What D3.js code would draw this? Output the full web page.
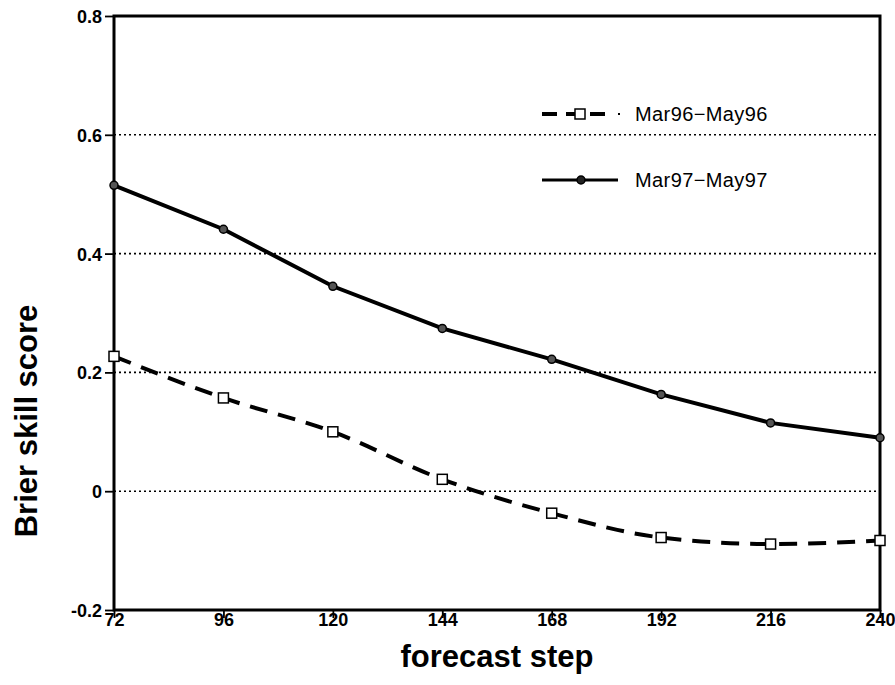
<!DOCTYPE html>
<html>
<head>
<meta charset="utf-8">
<script src="https://cdn.jsdelivr.net/npm/d3@7"></script>
<style>
  body { margin: 0; background: #fff; }
  svg text { font-family: "Liberation Sans", Arial, Helvetica, sans-serif; fill: #000; }
</style>
</head>
<body>
<div id="chart"></div>
<script>
var steps = [72, 96, 120, 144, 168, 192, 216, 240];
var mar96 = [0.227, 0.157, 0.100, 0.020, -0.037, -0.078, -0.089, -0.083];
var mar97 = [0.515, 0.441, 0.345, 0.274, 0.222, 0.163, 0.115, 0.090];
var yTicks = [-0.2, 0, 0.2, 0.4, 0.6, 0.8];
var gridValues = [0, 0.2, 0.4, 0.6];
var seriesNames = ['Mar96\u2212May96', 'Mar97\u2212May97'];

var width = 895, height = 685;
var plotLeft = 114, plotRight = 880, plotTop = 16, plotBottom = 610;

var x = d3.scaleLinear().domain([72, 240]).range([plotLeft, plotRight]);
var y = d3.scaleLinear().domain([-0.2, 0.8]).range([plotBottom, plotTop]);

var svg = d3.select('#chart').append('svg')
    .attr('width', width)
    .attr('height', height);

// dotted grid lines
svg.append('g').selectAll('line')
    .data(gridValues)
    .enter()
    .append('line')
    .attr('x1', plotLeft)
    .attr('x2', plotRight)
    .attr('y1', function (d) { return y(d) })
    .attr('y2', function (d) { return y(d) })
    .style('stroke', '#000')
    .style('stroke-width', 1.6)
    .style('stroke-dasharray', '2,3')

// axes
var yAxis = d3.axisLeft(y)
    .tickValues(yTicks)
    .tickSize(9)
    .tickPadding(3)
    .tickFormat(function (d) { return d === 0 ? '0' : d.toFixed(1) });

var xAxis = d3.axisBottom(x)
    .tickValues(steps)
    .tickSize(8)
    .tickPadding(-5)
    .tickFormat(d3.format('d'));

var gy = svg.append('g')
    .attr('transform', 'translate(' + plotLeft + ',0)')
    .call(yAxis);
var gx = svg.append('g')
    .attr('transform', 'translate(0,' + plotBottom + ')')
    .call(xAxis);

[gx, gy].forEach(function (g) {
    g.select('.domain').remove();
    g.selectAll('.tick line').style('stroke', '#000').style('stroke-width', 1.8);
    g.selectAll('.tick text')
        .style('font-size', '18px')
        .style('font-weight', 'bold')
        .attr('fill', '#000');
});
gy.selectAll('.tick text').attr('dy', '0.36em');

// frame
svg.append('rect')
    .attr('x', plotLeft)
    .attr('y', plotTop)
    .attr('width', plotRight - plotLeft)
    .attr('height', plotBottom - plotTop)
    .style('fill', 'none')
    .style('stroke', '#000')
    .style('stroke-width', 3)

// lines
var line97 = d3.line()
    .x(function (d, i) { return x(steps[i]) })
    .y(function (d) { return y(d) });
var line96 = d3.line()
    .curve(d3.curveMonotoneX)
    .x(function (d, i) { return x(steps[i]) })
    .y(function (d) { return y(d) });

svg.append('path')
    .datum(mar96)
    .attr('d', line96)
    .style('fill', 'none')
    .style('stroke', '#000')
    .style('stroke-width', 4)
    .style('stroke-dasharray', '18,11')

svg.append('path')
    .datum(mar97)
    .attr('d', line97)
    .style('fill', 'none')
    .style('stroke', '#000')
    .style('stroke-width', 4)

svg.append('g').selectAll('rect')
    .data(mar96)
    .enter()
    .append('rect')
    .attr('x', function (d, i) { return x(steps[i]) - 5 })
    .attr('y', function (d) { return y(d) - 5 })
    .attr('width', 10)
    .attr('height', 10)
    .style('fill', '#fff')
    .style('stroke', '#000')
    .style('stroke-width', 1.5)

svg.append('g').selectAll('circle')
    .data(mar97)
    .enter()
    .append('circle')
    .attr('cx', function (d, i) { return x(steps[i]) })
    .attr('cy', function (d) { return y(d) })
    .attr('r', 4)
    .style('fill', '#555')
    .style('stroke', '#000')
    .style('stroke-width', 1.5)

// legend
var legend = svg.append('g');
var legendY = [114, 180];

legend.append('line')
    .attr('x1', 542).attr('x2', 606)
    .attr('y1', legendY[0]).attr('y2', legendY[0])
    .style('stroke', '#000')
    .style('stroke-width', 4)
    .style('stroke-dasharray', '15,9')
legend.append('line')
    .attr('x1', 618).attr('x2', 620)
    .attr('y1', legendY[0]).attr('y2', legendY[0])
    .style('stroke', '#000')
    .style('stroke-width', 2)
legend.append('rect')
    .attr('x', 575).attr('y', legendY[0] - 5)
    .attr('width', 10).attr('height', 10)
    .style('fill', '#fff')
    .style('stroke', '#000')
    .style('stroke-width', 1.5)

legend.append('line')
    .attr('x1', 542).attr('x2', 618)
    .attr('y1', legendY[1]).attr('y2', legendY[1])
    .style('stroke', '#000')
    .style('stroke-width', 3)
legend.append('circle')
    .attr('cx', 581).attr('cy', legendY[1])
    .attr('r', 4)
    .style('fill', '#222')
    .style('stroke', '#000')
    .style('stroke-width', 1.5)

legend.selectAll('text')
    .data(seriesNames)
    .enter()
    .append('text')
    .attr('x', 635)
    .attr('y', function (d, i) { return legendY[i] })
    .attr('dy', '0.35em')
    .style('font-size', '20px')
    .style('letter-spacing', '0.4px')
    .text(function (d) { return d })

// axis titles
svg.append('text')
    .attr('x', (plotLeft + plotRight) / 2)
    .attr('y', 667)
    .attr('text-anchor', 'middle')
    .style('font-size', '31px')
    .style('font-weight', 'bold')
    .text('forecast step')

svg.append('text')
    .attr('transform', 'translate(37,421) rotate(-90)')
    .attr('text-anchor', 'middle')
    .style('font-size', '31px')
    .style('font-weight', 'bold')
    .text('Brier skill score')
</script>
</body>
</html>
